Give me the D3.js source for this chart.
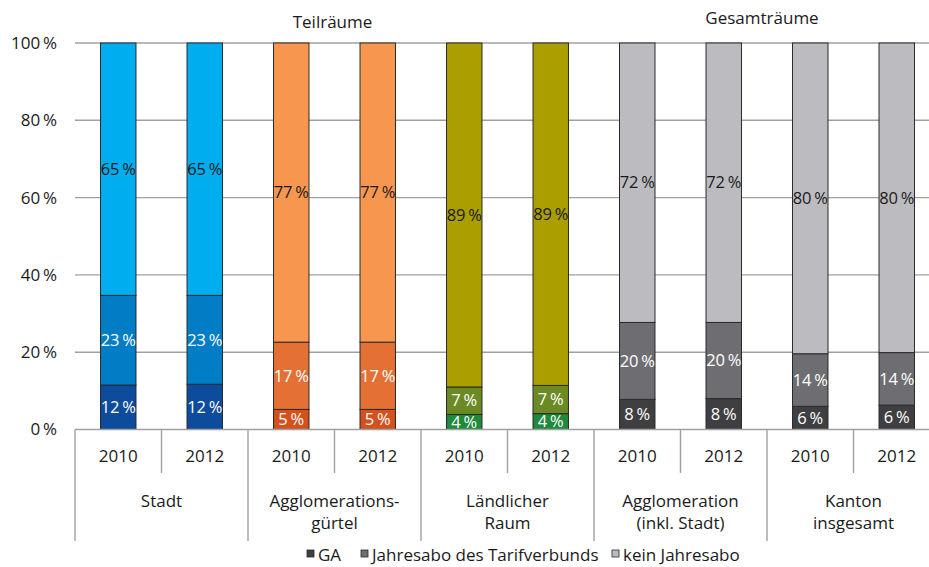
<!DOCTYPE html>
<html><head><meta charset="utf-8">
<script src="https://cdn.jsdelivr.net/npm/d3@7"></script>
<style>
body{margin:0;background:#fff;}
svg{display:block;font-family:"Open Sans","Noto Sans",sans-serif;}
</style></head>
<body><svg id="c" width="929" height="567"></svg>
<script>
const categories = ["Stadt","Agglomerations-|gürtel","Ländlicher|Raum","Agglomeration|(inkl. Stadt)","Kanton|insgesamt"];
const years = ["2010","2012"];
const groupTitles = ["Teilräume","Gesamträume"];
const seriesNames = ["GA","Jahresabo des Tarifverbunds","kein Jahresabo"];
// values per bar (category x year), in percent
const gaValues        = [11.5, 11.7, 5.2, 5.2, 3.9, 4.1, 7.8, 8.0, 6.0, 6.3];
const jahresaboValues = [23.2, 23.0, 17.4, 17.4, 7.1, 7.3, 19.9, 19.7, 13.6, 13.6];
const keinValues      = [65.3, 65.3, 77.4, 77.4, 89.0, 88.6, 72.3, 72.3, 80.4, 80.1];
const yTicks = [0,20,40,60,80,100];

const palettes = [
  ["#0d4b9c","#007dc5","#00aeef"],
  ["#d4501c","#e57034","#f7964f"],
  ["#1e8a3a","#6b8a23","#aa9e00"],
  ["#3f3f41","#6e6e72","#bcbcc0"],
  ["#3f3f41","#6e6e72","#bcbcc0"]
];
const legendColors = ["#3f3f41","#6e6e72","#bcbcc0"];
const labelColors = ["#ffffff","#ffffff","#1a1a1a"];
const FS = 17;

const svg = d3.select("#c");
const mLeft = 75, mRight = 940, mTop = 43, mBottom = 429.5;
const barKeys = [];
categories.forEach((c,ci)=>years.forEach(y=>barKeys.push(ci+"_"+y)));
const x = d3.scaleBand().domain(barKeys).range([mLeft,mRight]).paddingInner(0.59).paddingOuter(0.295);
const xStep = x.step();
const y = d3.scaleLinear().domain([0,100]).range([mBottom, mTop]);

// gridlines
svg.append("g").selectAll("line").data(yTicks.filter(d=>d>0)).join("line")
  .attr("x1",mLeft).attr("x2",929).attr("y1",d=>y(d)).attr("y2",d=>y(d))
  .attr("stroke","#a0a0a0").attr("stroke-width",1.4);

// y axis labels
const yAxis = d3.axisLeft(y).tickValues(yTicks).tickSize(0).tickPadding(0).tickFormat(d=>d+"\u2009%");
const ya = svg.append("g").attr("transform",`translate(${57},0)`).call(yAxis);
ya.select(".domain").remove();
ya.selectAll("text").attr("font-size",FS).attr("fill","#1a1a1a").attr("font-family","'Open Sans','Noto Sans',sans-serif");

// stacked data
const bars = barKeys.map((k,i)=>{
  const ci = Math.floor(i/2);
  const vals = [gaValues[i], jahresaboValues[i], keinValues[i]];
  let acc = 0;
  return {key:k, ci, segs: vals.map((v,si)=>{const s={v,si,y0:acc,y1:acc+v}; acc+=v; return s;})};
});

const bg = svg.append("g").selectAll("g").data(bars).join("g");
bg.selectAll("rect").data(d=>d.segs.map(s=>({...s,key:d.key,ci:d.ci}))).join("rect")
  .attr("x",d=>x(d.key)).attr("width",x.bandwidth())
  .attr("y",d=>y(d.y1)).attr("height",d=>y(d.y0)-y(d.y1))
  .attr("fill",d=>palettes[d.ci][d.si]).attr("stroke","#2a2a2a").attr("stroke-width",1);
bg.selectAll("text").data(d=>d.segs.map(s=>({...s,key:d.key,ci:d.ci}))).join("text")
  .attr("x",d=>x(d.key)+x.bandwidth()/2)
  .attr("y",d=>y((d.y0+d.y1)/2)).attr("dy","0.35em")
  .attr("text-anchor","middle").attr("font-size",16.5)
  .attr("fill",d=>labelColors[d.si])
  .text(d=>Math.round(d.v)+"\u2009%");

// table lines
const tl = svg.append("g").attr("stroke","#a0a0a0").attr("stroke-width",1.4);
tl.append("line").attr("x1",mLeft).attr("x2",929).attr("y1",mBottom).attr("y2",mBottom);
for(let i=0;i<=barKeys.length;i++){
  const xx = mLeft + i*xStep;
  const full = i%2===0;
  tl.append("line").attr("x1",xx).attr("x2",xx).attr("y1",mBottom).attr("y2",full?541:473);
}
// year labels
svg.append("g").selectAll("text").data(barKeys).join("text")
  .attr("x",d=>x(d)+x.bandwidth()/2).attr("y",456).attr("dy","0.35em")
  .attr("text-anchor","middle").attr("font-size",FS).attr("fill","#1a1a1a")
  .text(d=>d.split("_")[1]);
// category labels
const cg = svg.append("g").selectAll("text").data(categories).join("text")
  .attr("text-anchor","middle").attr("font-size",FS).attr("fill","#1a1a1a");
cg.each(function(d,i){
  const cx = mLeft + (i*2+1)*xStep;
  d3.select(this).selectAll("tspan").data(d.split("|")).join("tspan")
    .attr("x",cx).attr("y",(t,j)=>501+j*22).attr("dy","0.35em").text(t=>t);
});
// group titles
svg.append("text").attr("x",mLeft+3*xStep-2).attr("y",22).attr("dy","0.35em")
  .attr("text-anchor","middle").attr("font-size",FS).attr("fill","#1a1a1a").text(groupTitles[0]);
svg.append("text").attr("x",mLeft+8*xStep-5).attr("y",18).attr("dy","0.35em")
  .attr("text-anchor","middle").attr("font-size",FS).attr("fill","#1a1a1a").text(groupTitles[1]);

// legend
const legX = [307,361,612];
const lg = svg.append("g").selectAll("g").data(seriesNames).join("g")
  .attr("transform",(d,i)=>`translate(${legX[i]},0)`);
lg.append("rect").attr("x",0).attr("y",550).attr("width",7).attr("height",7)
  .attr("fill",(d,i)=>legendColors[i]).attr("stroke","#2a2a2a").attr("stroke-width",0.8);
lg.append("text").attr("x",11).attr("y",555).attr("dy","0.35em").attr("font-size",FS)
  .attr("fill","#1a1a1a").text(d=>d);
</script></body></html>
